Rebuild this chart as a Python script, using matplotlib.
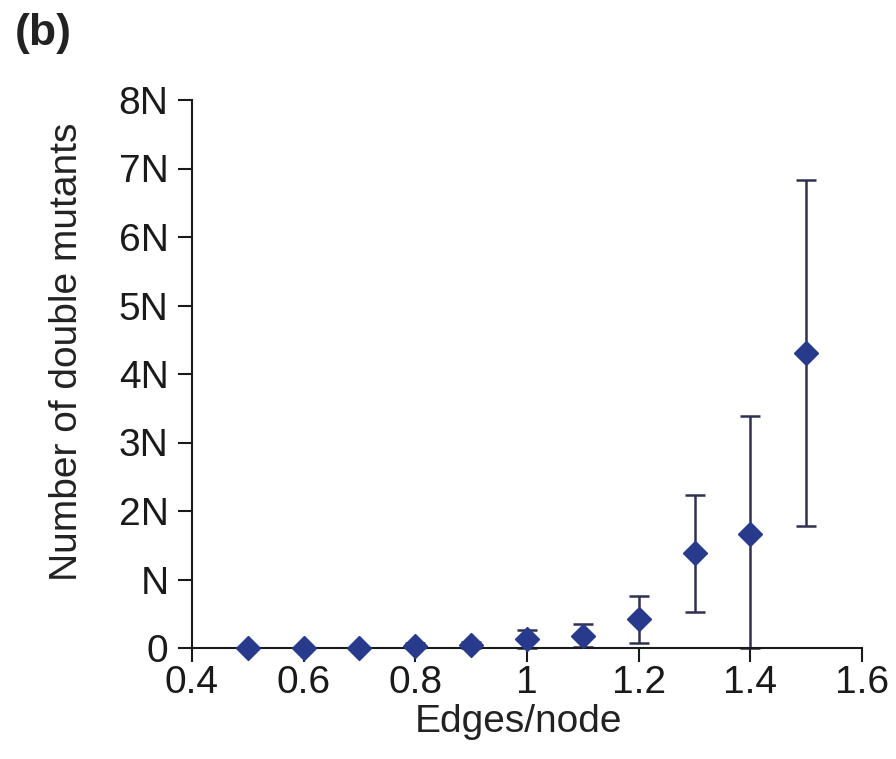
import matplotlib
matplotlib.use("Agg")
import matplotlib.pyplot as plt
import numpy as np

plt.rcParams['font.family'] = ['Liberation Sans', 'DejaVu Sans']

# Data (in units of N)
edges_per_node = [0.5, 0.6, 0.7, 0.8, 0.9, 1.0, 1.1, 1.2, 1.3, 1.4, 1.5]
mean_double = [0.0, 0.0, 0.0, 0.03, 0.04, 0.13, 0.18, 0.43, 1.39, 1.67, 4.30]
upper_bound = [0.0, 0.0, 0.0, 0.08, 0.09, 0.26, 0.35, 0.76, 2.23, 3.38, 6.83]
lower_bound = [0.0, 0.0, 0.0, 0.00, 0.00, 0.00, 0.01, 0.08, 0.53, 0.00, 1.78]

x_ticks = [0.4, 0.6, 0.8, 1.0, 1.2, 1.4, 1.6]
x_ticklabels = ['0.4', '0.6', '0.8', '1', '1.2', '1.4', '1.6']
y_ticks = [0, 1, 2, 3, 4, 5, 6, 7, 8]
y_ticklabels = ['0', 'N', '2N', '3N', '4N', '5N', '6N', '7N', '8N']

x = np.array(edges_per_node)
m = np.array(mean_double)
up = np.array(upper_bound)
lo = np.array(lower_bound)

fig = plt.figure(figsize=(8.96, 7.59), dpi=100)
ax = fig.add_axes([192/896, 1-648/759, (862-192)/896, (648-100)/759])

err_color = '#2e3150'
mk_color = '#283a8c'

has_err = (up - lo) > 0
ax.errorbar(x[has_err], m[has_err], yerr=[m[has_err]-lo[has_err], up[has_err]-m[has_err]],
            fmt='none', ecolor=err_color, elinewidth=1.8, capsize=7.5, capthick=1.8, zorder=2,
            clip_on=False)
ax.plot(x, m, linestyle='none', marker='D', markersize=12, color=mk_color,
        markeredgecolor=mk_color, zorder=3, clip_on=False)

ax.set_xlim(0.4, 1.6)
ax.set_ylim(0, 8)
ax.set_xticks(x_ticks)
ax.set_xticklabels(x_ticklabels)
ax.set_yticks(y_ticks)
ax.set_yticklabels(y_ticklabels)

for s in ['top', 'right']:
    ax.spines[s].set_visible(False)
for s in ['left', 'bottom']:
    ax.spines[s].set_linewidth(1.5)
    ax.spines[s].set_color('#1a1a1a')

ax.tick_params(axis='both', direction='out', length=10, width=1.5, color='#1a1a1a',
               labelsize=28, labelcolor='#1a1a1a')
ax.tick_params(axis='x', pad=2)
ax.tick_params(axis='y', pad=7)

ax.set_xlabel('Edges/node', fontsize=28, color='#222222')
ax.set_ylabel('Number of double mutants', fontsize=28, color='#222222')
ax.xaxis.set_label_coords(0.488, -0.103)
ax.yaxis.set_label_coords(-0.16, 0.54)

fig.text(43/896, 1-33/759, '(b)', fontsize=32, fontweight='bold', ha='center', va='center',
         color='#222222')

fig.savefig('out.png', dpi=100)
